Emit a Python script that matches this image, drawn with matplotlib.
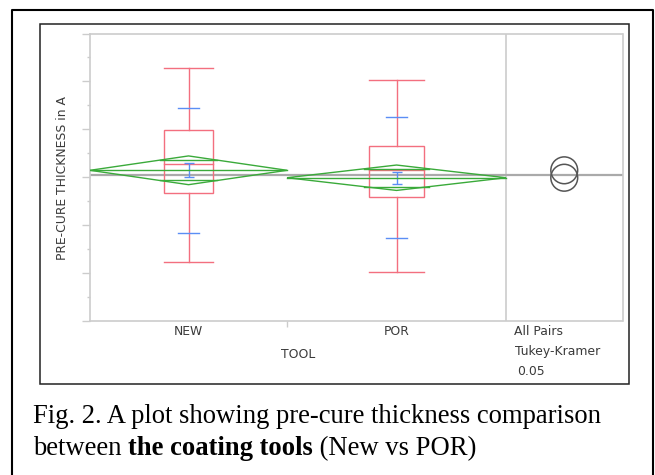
import matplotlib.pyplot as plt
from matplotlib.patches import Polygon, Ellipse, Rectangle
from matplotlib.lines import Line2D
from matplotlib.transforms import blended_transform_factory

# data (y axis unlabeled, 1 unit = one minor tick)
tools = ['NEW', 'POR']
n_obs = [45, 50]                      # drives the diamond / segment widths
whisk_lo = [2.47, 2.05]
q1 = [5.33, 5.18]
median = [6.54, 6.29]
q3 = [7.96, 7.29]
whisk_hi = [10.57, 10.08]
means = [6.29, 5.98]
ci_half = [0.60, 0.53]                # means diamond half-height
se = [0.29, 0.25]                     # mean error bars
sd = [2.60, 2.52]                     # std dev marks
grand_mean = 6.11
circle_r = [0.56, 0.56]               # comparison circles
caption1 = 'Fig. 2. A plot showing pre-cure thickness comparison'
caption2 = [('between ', 'normal'), ('the coating tools', 'bold'), (' (New vs POR)', 'normal')]

W, H = 655, 475
fig = plt.figure(figsize=(W / 100, H / 100), dpi=100)

def fx(x):
    return x / W

def fy(y):
    return 1 - y / H

# outer frame (open at the bottom) and inner image box
fig.lines.append(Line2D([fx(12), fx(12), fx(653), fx(653)], [fy(476), fy(10), fy(10), fy(476)],
                        transform=fig.transFigure, color='black', lw=1.5))
fig.patches.append(Rectangle((fx(39.5), fy(384)), fx(629) - fx(39.5), fy(23.5) - fy(384),
                             transform=fig.transFigure, fill=False, ec='#222222', lw=1.1))

left, right, top, bottom = 90, 622.5, 33.5, 321
ax = fig.add_axes([fx(left), fy(bottom), fx(right) - fx(left), fy(top) - fy(bottom)])

n_tot = sum(n_obs)
xmax = n_tot * (right - left) / (506 - left)
ax.set_xlim(0, xmax)
ax.set_ylim(0, 12)

gray = '#cccccc'
for s in ax.spines.values():
    s.set_color(gray)
    s.set_linewidth(1.2)
ax.set_yticks(range(0, 13, 2))
ax.set_yticks(range(1, 12, 2), minor=True)
ax.tick_params(axis='y', which='major', length=6, width=1, color=gray, labelleft=False)
ax.tick_params(axis='y', which='minor', length=2.2, width=1, color=gray)
ax.set_xticks([n_obs[0]])
ax.tick_params(axis='x', length=4, width=1, color=gray, labelbottom=False)

# divider for the comparison circles panel
ax.axvline(n_tot, color=gray, lw=1.2, zorder=1)
ax.axhline(grand_mean, color='#aaaaaa', lw=1.6, zorder=1)

red = '#f36f7f'
blue = '#5b8ef5'
green = '#3aaa3a'

starts = [0, n_obs[0]]
for i in range(len(tools)):
    x0 = starts[i]
    w = n_obs[i]
    c = x0 + w / 2
    bw = 0.125 * w
    # box + whiskers
    ax.add_patch(Rectangle((c - bw, q1[i]), 2 * bw, q3[i] - q1[i], fill=False, ec=red, lw=1, zorder=2))
    ax.plot([c - bw, c + bw], [median[i]] * 2, color=red, lw=1, zorder=2)
    ax.plot([c, c], [q3[i], whisk_hi[i]], color=red, lw=1, zorder=2)
    ax.plot([c, c], [whisk_lo[i], q1[i]], color=red, lw=1, zorder=2)
    ax.plot([c - bw, c + bw], [whisk_hi[i]] * 2, color=red, lw=1, zorder=2)
    ax.plot([c - bw, c + bw], [whisk_lo[i]] * 2, color=red, lw=1, zorder=2)
    # std dev marks
    for yv in (means[i] + sd[i], means[i] - sd[i]):
        ax.plot([c - 2.3, c + 2.3], [yv, yv], color=blue, lw=1, zorder=3)
    # mean error bar
    ax.errorbar(c, means[i], yerr=se[i], color=blue, lw=1, capsize=3.5, capthick=1, zorder=3)
    # means diamond
    m, h = means[i], ci_half[i]
    ax.add_patch(Polygon([(x0, m), (c, m + h), (x0 + w, m), (c, m - h)], closed=True,
                         fill=False, ec=green, lw=1, zorder=4))
    ax.plot([x0, x0 + w], [m, m], color=green, lw=1, zorder=4)
    k = 1 / 2 ** 0.5
    hw = (1 - k) * w / 2
    for yv in (m + h * k, m - h * k):
        ax.plot([c - hw, c + hw], [yv, yv], color=green, lw=1, zorder=4)

# comparison circles
xc = n_tot + (xmax - n_tot) / 2
px_x = (right - left) / xmax
px_y = (bottom - top) / 12
for i in range(len(tools)):
    r = circle_r[i]
    ax.add_patch(Ellipse((xc, means[i]), 2 * r * px_y / px_x, 2 * r, fill=False,
                         ec='#555555', lw=1.1, zorder=4))

# labels
tfont = dict(family='DejaVu Sans', size=8.9, color='#3a3a3a')
trans = blended_transform_factory(ax.transData, ax.transAxes)
axh = bottom - top
for i in range(len(tools)):
    ax.text(starts[i] + n_obs[i] / 2, -10.7 / axh, tools[i], transform=trans,
            ha='center', va='center', **tfont)
ax.text(n_tot / 2, -34 / axh, 'TOOL', transform=trans, ha='center', va='center', **tfont)
ax.text(n_tot + 1.8, -10.7 / axh, 'All Pairs', transform=trans, ha='left', va='center', **tfont)
ax.text(n_tot + 2.0, -30.7 / axh, 'Tukey-Kramer', transform=trans, ha='left', va='center', **tfont)
ax.text(n_tot + 2.5, -50.7 / axh, '0.05', transform=trans, ha='left', va='center', **tfont)
fig.text(fx(62), fy(178), 'PRE-CURE THICKNESS in A', rotation=90, ha='center', va='center', **tfont)

# caption
cfont = dict(family='Liberation Serif', size=19.2, color='black')
fig.text(fx(33), fy(423), caption1, ha='left', va='baseline', **cfont)
renderer = fig.canvas.get_renderer()
xpos = fx(33)
for txt, wt in caption2:
    t = fig.text(xpos, fy(455), txt, ha='left', va='baseline', weight=wt, **cfont)
    bb = t.get_window_extent(renderer)
    xpos += bb.width / W

fig.savefig('out.png', dpi=100)
